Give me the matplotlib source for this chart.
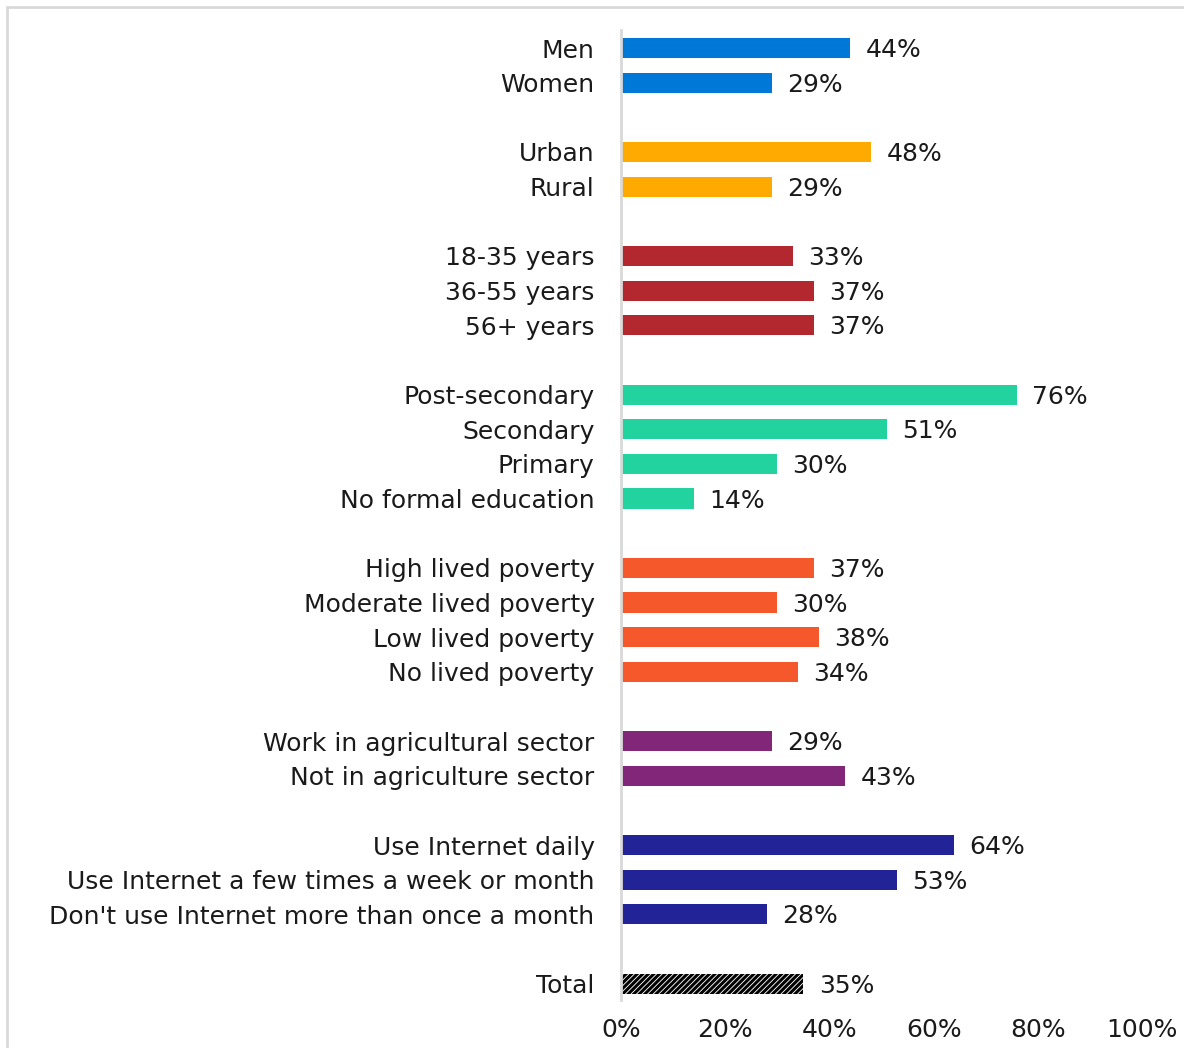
import matplotlib
matplotlib.use("Agg")
import matplotlib.pyplot as plt
from matplotlib.patches import Rectangle

plt.rcParams['font.family'] = ['DejaVu Sans']
plt.rcParams['hatch.linewidth'] = 2.2

labels = ["Men", "Women",
          "Urban", "Rural",
          "18-35 years", "36-55 years", "56+ years",
          "Post-secondary", "Secondary", "Primary", "No formal education",
          "High lived poverty", "Moderate lived poverty", "Low lived poverty", "No lived poverty",
          "Work in agricultural sector", "Not in agriculture sector",
          "Use Internet daily", "Use Internet a few times a week or month",
          "Don't use Internet more than once a month",
          "Total"]
values = [44, 29,
          48, 29,
          33, 37, 37,
          76, 51, 30, 14,
          37, 30, 38, 34,
          29, 43,
          64, 53, 28,
          35]
group_sizes = [2, 2, 3, 4, 4, 2, 3, 1]
group_colors = ["#0078D7", "#FFAA00", "#B3282F", "#22D3A0", "#F5582A",
                "#82267A", "#232398", "white"]
xticks = [0, 20, 40, 60, 80, 100]
xtick_labels = ["0%", "20%", "40%", "60%", "80%", "100%"]

# positions with a blank slot between groups
positions, colors = [], []
slot = 0
for gi, n in enumerate(group_sizes):
    for k in range(n):
        positions.append(slot)
        colors.append(group_colors[gi])
        slot += 1
    slot += 1

W, H = 1184, 1048
fig = plt.figure(figsize=(W / 100, H / 100), dpi=100)
ax = fig.add_axes([621 / W, 1 - 1000 / H, (1142 - 621) / W, (1000 - 30) / H])

fs = 18
for i, (p, v, c) in enumerate(zip(positions, values, colors)):
    if i == len(values) - 1:
        ax.barh(p, v, height=0.58, color="white", edgecolor="black", hatch="//////", linewidth=0)
    else:
        ax.barh(p, v, height=0.58, color=c, linewidth=0)
    ax.annotate(f"{v}%", xy=(v, p), xytext=(11, -1.5), textcoords="offset points",
                ha="left", va="center", fontsize=fs, color="#1a1a1a")

ax.set_xlim(0, 100)
ax.set_ylim(27.47, -0.52)
ax.set_yticks(positions)
ax.set_yticklabels(labels, fontsize=fs, color="#1a1a1a")
ax.set_xticks(xticks)
ax.set_xticklabels(xtick_labels, fontsize=fs, color="#1a1a1a")
ax.tick_params(axis="y", length=0, pad=19)
ax.tick_params(axis="x", length=0, pad=13)
for s in ["top", "right", "bottom"]:
    ax.spines[s].set_visible(False)
ax.spines["left"].set_color("#D9D9D9")
ax.spines["left"].set_linewidth(2)

fig.patches.append(Rectangle((7 / W, -0.1), 1.2, 1.1 - 7 / H, transform=fig.transFigure,
                             fill=False, edgecolor="#D9D9D9", linewidth=2))

fig.savefig("out.png", dpi=100)
